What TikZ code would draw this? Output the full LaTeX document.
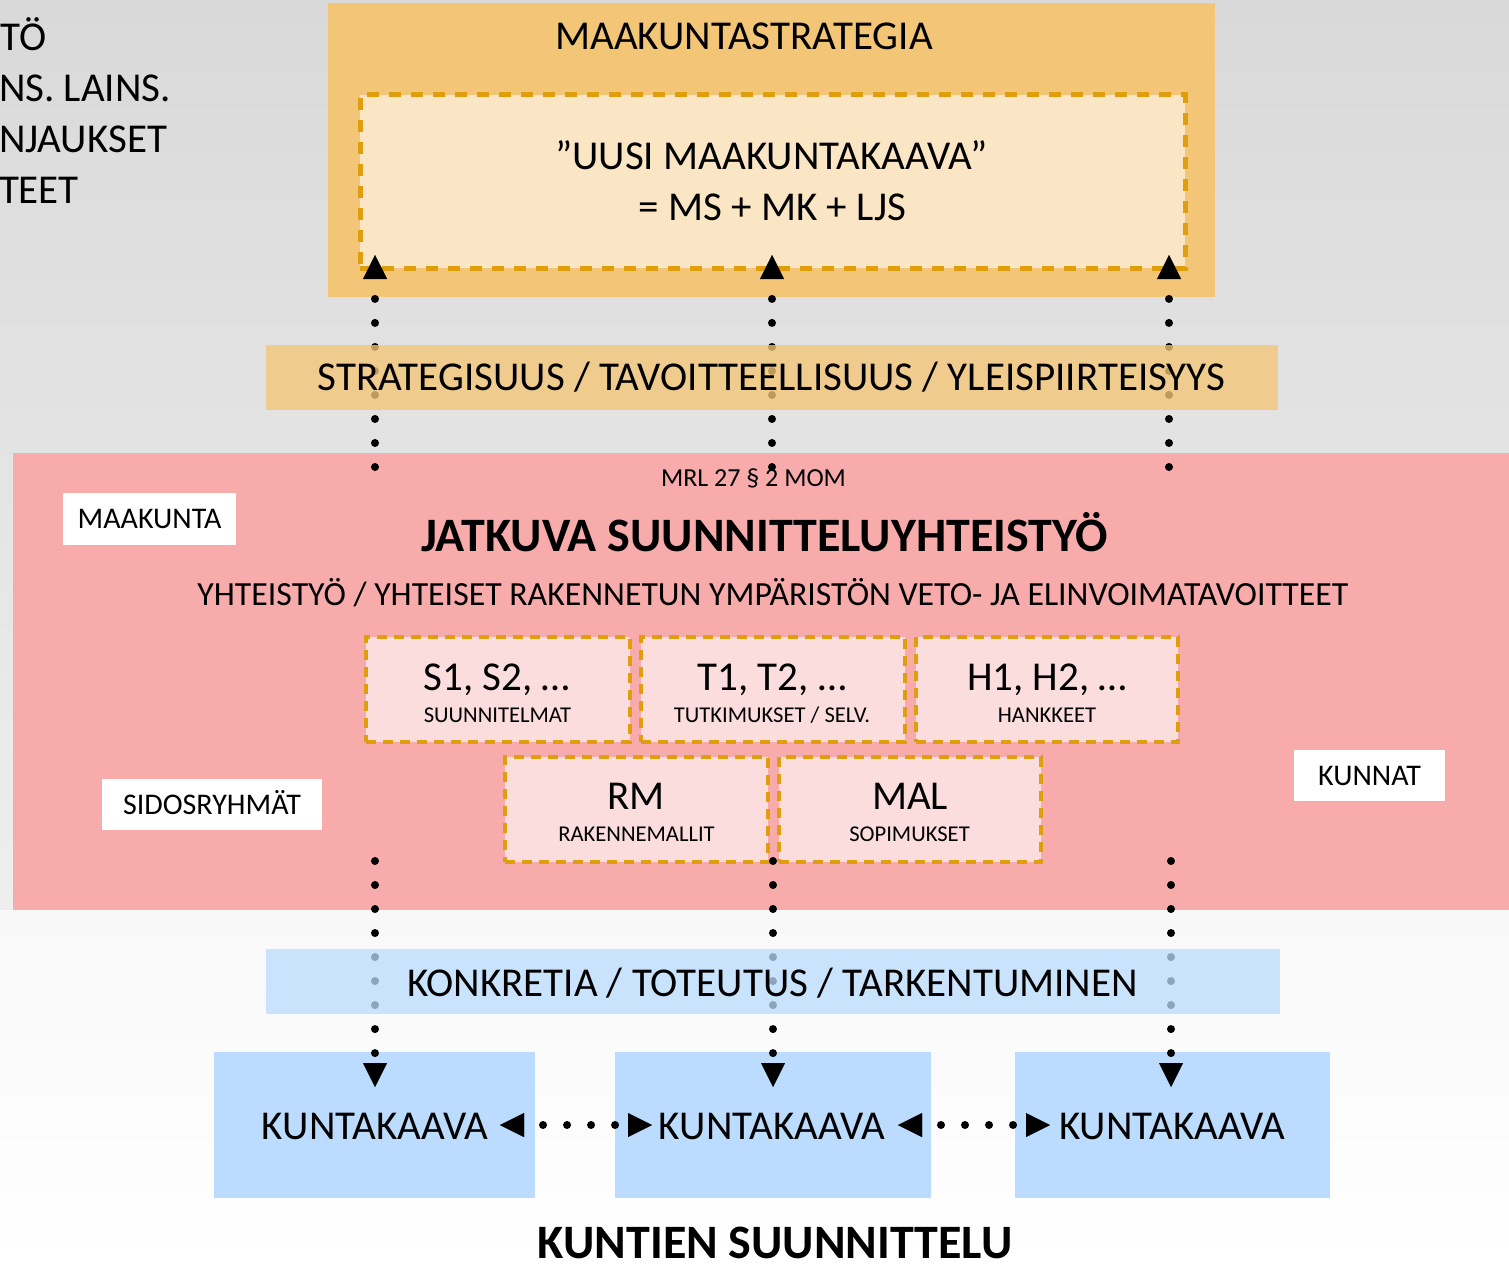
\documentclass[tikz,border=0pt]{standalone}
\usepackage{fontspec}
\setmainfont{Carlito}
\usetikzlibrary{arrows.meta}
\definecolor{orangebox}{HTML}{F3C576}
\definecolor{innerbox}{HTML}{FAE6C4}
\definecolor{dashcol}{HTML}{E09E0D}
\definecolor{pinkband}{HTML}{F7ABAB}
\definecolor{pinkbox}{HTML}{FBDDDD}
\definecolor{bluebox}{HTML}{BBDCFE}
\definecolor{bgtop}{HTML}{D9D9D9}
\definecolor{bgmid}{HTML}{EEEEEE}
\definecolor{bglow}{HTML}{F8F8F8}
\newcommand{\fsBig}{\fontsize{41}{48}\selectfont}
\newcommand{\fsBold}{\fontsize{48}{56}\selectfont\bfseries}
\newcommand{\fsMid}{\fontsize{33.8}{40}\selectfont}
\newcommand{\fsLab}{\fontsize{30}{36}\selectfont}
\newcommand{\fsMrl}{\fontsize{26}{30}\selectfont}
\newcommand{\fsSub}{\fontsize{22.6}{26}\selectfont}
\begin{document}
\begin{tikzpicture}[x=1pt,y=-1pt,
  txt/.style={inner sep=0pt, outer sep=0pt, text depth=0pt, anchor=center},
  tBig/.style={txt, font=\fsBig, text height=25.9pt},
  tBold/.style={txt, font=\fsBold, text height=30.3pt},
  tMid/.style={txt, font=\fsMid, text height=21.4pt},
  tLab/.style={txt, font=\fsLab, text height=19pt},
  tMrl/.style={txt, font=\fsMrl, text height=16.4pt},
  tSub/.style={txt, font=\fsSub, text height=14.3pt},
  area/.style={inner sep=0pt, outer sep=0pt, anchor=center},
  whitebox/.style={area, fill=white, font=\fsLab, text height=19pt, text depth=0pt},
  dashbox/.style={area, fill=pinkbox, draw=dashcol, line width=4pt, dash pattern=on 10pt off 7pt},
  bluek/.style={area, fill=bluebox},
  band/.style={area, fill opacity=0.78},
  dotline/.style={line width=8pt, line cap=round, dash pattern=on 0.01pt off 24pt},
  tip/.tip={Triangle[length=24pt, width=24pt, line width=0.01pt]}
]
\useasboundingbox (0,0) rectangle (1509,1268);
% background
\shade[top color=bgtop, bottom color=bgmid] (0,0) rectangle (1509,910);
\shade[top color=bglow, bottom color=white] (0,910) rectangle (1509,1268);

% left clipped texts
\node[tBig, anchor=west] (l1) at (1,38) {TÖ};
\node[tBig, anchor=west] (l2) at (-1,89) {NS. LAINS.};
\node[tBig, anchor=west] (l3) at (-1,140) {NJAUKSET};
\node[tBig, anchor=west] (l4) at (-1,191) {TEET};

% top strategy box
\node[area, fill=orangebox, minimum width=887pt, minimum height=294pt] (ms) at (771.5,150) {};
\node[tBig] (mstitle) at (744,37) {MAAKUNTASTRATEGIA};
\node[area, fill=innerbox, draw=dashcol, line width=5pt, dash pattern=on 12pt off 10pt,
      minimum width=825pt, minimum height=173pt] (uusi) at (772.5,181.5) {};
\node[tBig] (uusi1) at (771.5,157) {”UUSI MAAKUNTAKAAVA”};
\node[tBig] (uusi2) at (772.5,208) {= MS + MK + LJS};

% pink band
\node[area, fill=pinkband, minimum width=1496pt, minimum height=457pt] (pink) at (761,681.5) {};
\node[tMrl] (mrl) at (753.5,478) {MRL 27 § 2 MOM};
\node[whitebox, minimum width=173pt, minimum height=52pt] (maakunta) at (149.5,519) {MAAKUNTA};
\node[whitebox, minimum width=220pt, minimum height=51pt] (sidos) at (212,804.5) {SIDOSRYHMÄT};
\node[whitebox, minimum width=151pt, minimum height=51pt] (kunnat) at (1369.5,775.5) {KUNNAT};
\node[tBold] (jatkuva) at (764.5,536) {JATKUVA SUUNNITTELUYHTEISTYÖ};
\node[tMid] (yht) at (773,595) {YHTEISTYÖ / YHTEISET RAKENNETUN YMPÄRISTÖN VETO- JA ELINVOIMATAVOITTEET};

% dashed boxes
\node[dashbox, minimum width=264pt, minimum height=105pt] (sbox) at (498,689.5) {};
\node[dashbox, minimum width=264pt, minimum height=105pt] (tbox) at (773,689.5) {};
\node[dashbox, minimum width=262pt, minimum height=105pt] (hbox) at (1047,689.5) {};
\node[dashbox, minimum width=263pt, minimum height=105pt] (rmbox) at (636.5,809.5) {};
\node[dashbox, minimum width=262pt, minimum height=105pt] (malbox) at (910,809.5) {};
\node[tBig] (s1) at (497,678) {S1, S2, …};
\node[tSub] (s2) at (497.5,715) {SUUNNITELMAT};
\node[tBig] (t1) at (772,678) {T1, T2, …};
\node[tSub] (t2) at (772,715) {TUTKIMUKSET / SELV.};
\node[tBig] (h1) at (1047,678) {H1, H2, …};
\node[tSub] (h2) at (1047,715) {HANKKEET};
\node[tBig] (rm1) at (636,797) {RM};
\node[tSub] (rm2) at (636.5,834) {RAKENNEMALLIT};
\node[tBig] (mal1) at (910,797) {MAL};
\node[tSub] (mal2) at (909.5,834) {SOPIMUKSET};

% kuntakaava boxes
\node[bluek, minimum width=321pt, minimum height=146pt] (k1) at (374.5,1125) {};
\node[bluek, minimum width=316pt, minimum height=146pt] (k2) at (773,1125) {};
\node[bluek, minimum width=315pt, minimum height=146pt] (k3) at (1172.5,1125) {};
\node[tBig] (k1t) at (375,1127) {KUNTAKAAVA};
\node[tBig] (k2t) at (772,1127) {KUNTAKAAVA};
\node[tBig] (k3t) at (1172,1127) {KUNTAKAAVA};
\node[tBold] (kuntien) at (775,1243) {KUNTIEN SUUNNITTELU};

% connector end points
\coordinate (u1s) at (375,467);  \coordinate (u1e) at (375,255);
\coordinate (u2s) at (772,467);  \coordinate (u2e) at (772,255);
\coordinate (u3s) at (1169,467); \coordinate (u3e) at (1169,255);
\coordinate (d1s) at (375,861);  \coordinate (d1e) at (375,1087);
\coordinate (d2s) at (773,861);  \coordinate (d2e) at (773,1087);
\coordinate (d3s) at (1171,861); \coordinate (d3e) at (1171,1087);
\coordinate (h1a) at (500,1125); \coordinate (h1b) at (652,1125);
\coordinate (h2a) at (898,1125); \coordinate (h2b) at (1050,1125);

\draw[dotline, -tip] (u1s) -- (u1e);
\draw[dotline, -tip] (u2s) -- (u2e);
\draw[dotline, -tip] (u3s) -- (u3e);
\draw[dotline, -tip] (d1s) -- (d1e);
\draw[dotline, -tip] (d2s) -- (d2e);
\draw[dotline, -tip] (d3s) -- (d3e);
\draw[dotline, dash phase=5pt, tip-tip] (h1a) -- (h1b);
\draw[dotline, dash phase=5pt, tip-tip] (h2a) -- (h2b);

% semi-transparent bands
\node[band, fill=orangebox, minimum width=1012pt, minimum height=65pt] (strat) at (772,377.5) {};
\node[band, fill=bluebox, fill opacity=0.75, minimum width=1014pt, minimum height=65pt] (konk) at (773,981.5) {};
\node[tBig] (stratt) at (771.5,378) {STRATEGISUUS / TAVOITTEELLISUUS / YLEISPIIRTEISYYS};
\node[tBig] (konkt) at (772.5,984) {KONKRETIA / TOTEUTUS / TARKENTUMINEN};
\end{tikzpicture}
\end{document}
